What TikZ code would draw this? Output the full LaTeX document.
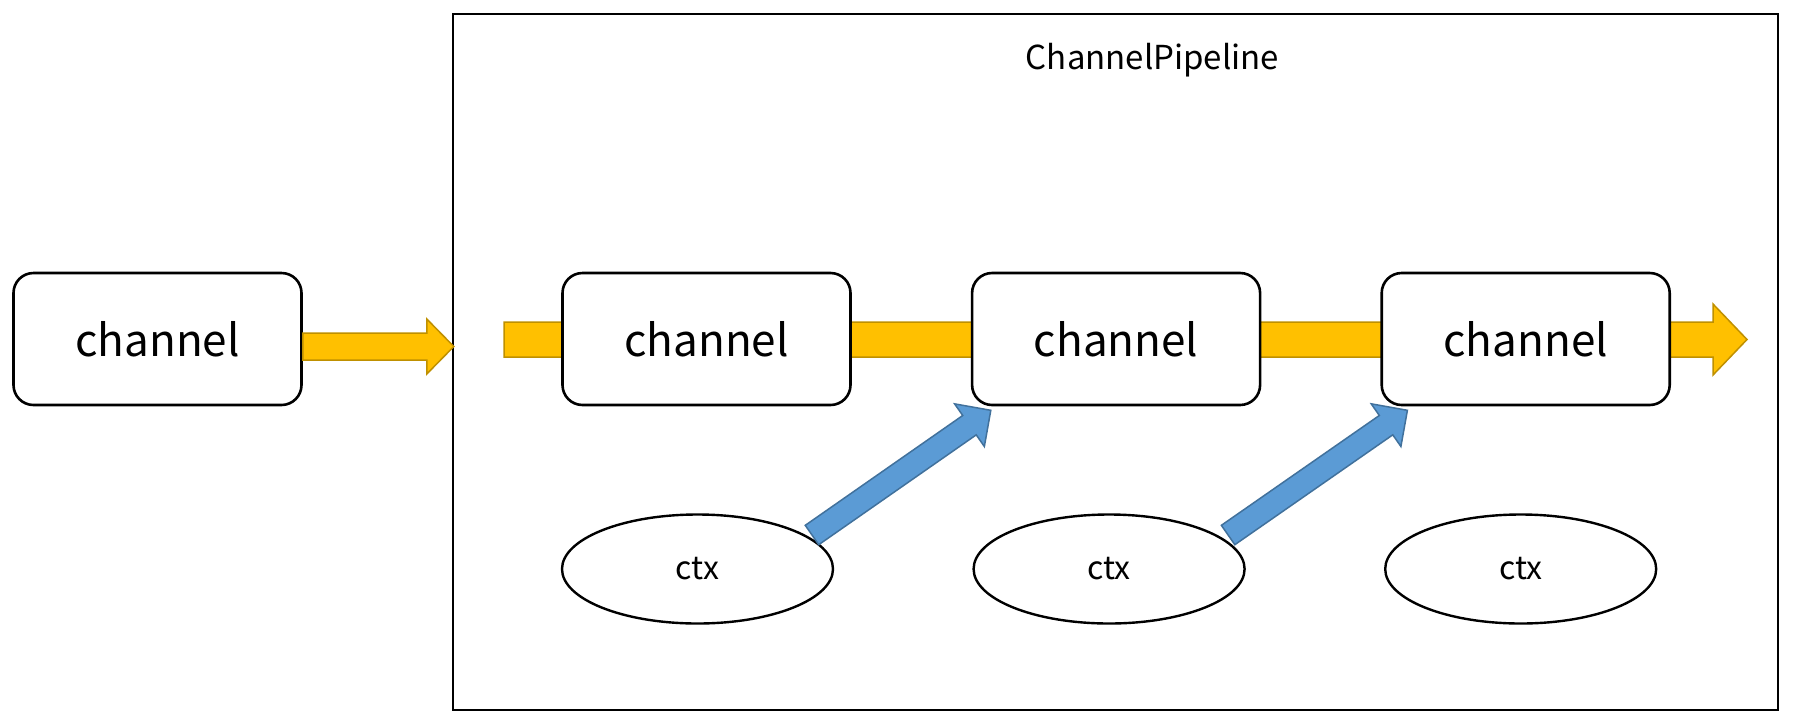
\documentclass[tikz,border=0pt]{standalone}
\usepackage{fontspec}
\newfontfamily\yahei{Noto Sans CJK SC}
\usetikzlibrary{positioning,calc,shapes.geometric}
\definecolor{flowfill}{RGB}{255,192,0}
\definecolor{flowline}{RGB}{191,144,0}
\definecolor{ctxfill}{RGB}{91,155,213}
\definecolor{ctxline}{RGB}{65,113,156}
\tikzset{
  chan_box/.style = {draw=black, fill=white, rounded corners=20pt,
    line width=2.6pt, minimum width=288pt, minimum height=132pt,
    inner sep=0pt, font=\yahei\fontsize{44}{52}\selectfont},
  ctx_ell/.style = {ellipse, draw=black, fill=white, line width=2.4pt,
    minimum width=271pt, minimum height=109pt, inner sep=0pt,
    font=\yahei\fontsize{32}{38}\selectfont},
  pipe_box/.style = {draw=black, line width=2.4pt, minimum width=1325pt,
    minimum height=696pt, inner sep=0pt},
  flow_arr/.style = {fill=flowfill, draw=flowline, line width=1.5pt},% gelber Pfeil
  ctx_arr/.style = {fill=ctxfill, draw=ctxline, line width=1.5pt}% blauer Pfeil
}
% breiter Pfeil: Stil, von, nach, halbe Schaftbreite, halbe Spitzenbreite, Spitzenlaenge
\newcommand{\fatarrow}[6]{%
  \coordinate (fa_base) at ($(#3)!#6!(#2)$);
  \draw[#1] ($(#2)!#4!90:(#3)$) -- ($(fa_base)!#4!90:(#3)$)
    -- ($(fa_base)!#5!90:(#3)$) -- (#3) -- ($(fa_base)!#5!-90:(#3)$)
    -- ($(fa_base)!#4!-90:(#3)$) -- ($(#2)!#4!-90:(#3)$) -- cycle;}

\begin{document}
\begin{tikzpicture}[x=1pt, y=-1pt]
\useasboundingbox (0,0) rectangle (1805,721);
\node [pipe_box] (pipe) at (1115.5,362) {};
\node [anchor=base, font=\yahei\fontsize{33}{40}\selectfont] (title) at (1152.5,69) {ChannelPipeline};

% Kanaele
\node [chan_box] (ch0) at (157.5,339) {channel};
\coordinate (in0) at ($(ch0.east)+(151,7.5)$);
\fatarrow{flow_arr}{ch0.east |- in0}{in0}{13.5pt}{27.5pt}{27pt}

\coordinate (flow_start) at (504,339.5);
\coordinate (flow_end) at (1747,339.5);
\fatarrow{flow_arr}{flow_start}{flow_end}{17.5pt}{35.5pt}{34pt}

\node [chan_box] (ch1) at (706.5,339) {channel};
\node [chan_box, right=119pt of ch1] (ch2) {channel};
\node [chan_box, right=119pt of ch2] (ch3) {channel};

% Kontexte
\node [ctx_ell, below=107pt of ch1, xshift=-9pt] (ctx1) {ctx};
\node [ctx_ell, below=107pt of ch2, xshift=-7pt] (ctx2) {ctx};
\node [ctx_ell, below=107pt of ch3, xshift=-5pt] (ctx3) {ctx};

\coordinate (tail1) at ($(ctx1.center)+(114.5,-34)$);
\coordinate (tip1) at ($(ch2.south west)+(20,4)$);
\fatarrow{ctx_arr}{tail1}{tip1}{11.8pt}{26pt}{26pt}
\coordinate (tail2) at ($(ctx2.center)+(119,-34)$);
\coordinate (tip2) at ($(ch3.south west)+(27,4)$);
\fatarrow{ctx_arr}{tail2}{tip2}{11.8pt}{26pt}{26pt}
\end{tikzpicture}
\end{document}
